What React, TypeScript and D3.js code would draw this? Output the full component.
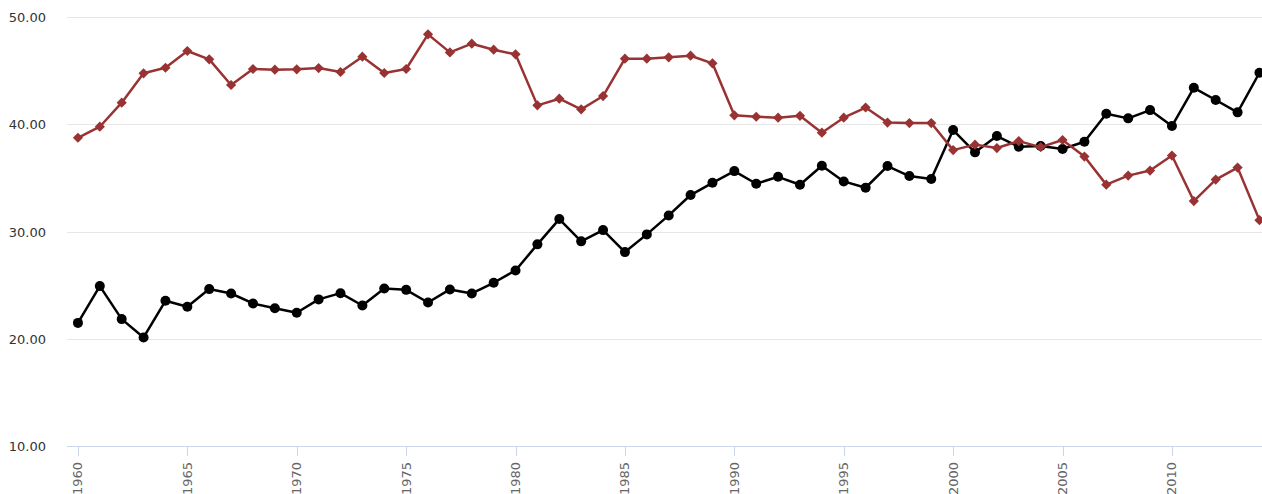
import React from 'react';
import * as d3 from 'd3';

// years on the x axis
const years: number[] = d3.range(1960, 2015);

// black series (circles)
const seriesBlack: number[] = [
  21.48, 24.91, 21.83, 20.12, 23.54, 22.98, 24.63, 24.22, 23.29, 22.85,
  22.42, 23.67, 24.25, 23.10, 24.69, 24.56, 23.38, 24.60, 24.22, 25.22,
  26.37, 28.80, 31.16, 29.08, 30.13, 28.08, 29.73, 31.50, 33.40, 34.54,
  35.63, 34.45, 35.10, 34.36, 36.13, 34.67, 34.08, 36.10, 35.17, 34.89,
  39.46, 37.38, 38.90, 37.90, 37.97, 37.69, 38.37, 40.98, 40.55, 41.32,
  39.83, 43.40, 42.26, 41.11, 44.80,
];

// red series (diamonds)
const seriesRed: number[] = [
  38.74, 39.77, 42.01, 44.75, 45.27, 46.83, 46.05, 43.66, 45.15, 45.09,
  45.12, 45.24, 44.87, 46.30, 44.78, 45.15, 48.38, 46.70, 47.51, 46.95,
  46.52, 41.76, 42.38, 41.39, 42.63, 46.11, 46.11, 46.24, 46.39, 45.68,
  40.83, 40.70, 40.61, 40.79, 39.21, 40.61, 41.56, 40.16, 40.11, 40.11,
  37.59, 38.10, 37.78, 38.43, 37.87, 38.53, 36.99, 34.37, 35.21, 35.68,
  37.08, 32.84, 34.84, 35.96, 31.06,
];

const yTicks: number[] = [10, 20, 30, 40, 50];
const xTicks: number[] = d3.range(1960, 2015, 5);

const W = 1262;
const H = 494;
const plotLeft = 67;
const plotTop = 17;
const plotBottom = 446;

export default function App() {
  const x = d3.scaleLinear().domain([1959.5, 2014.5]).range([plotLeft, 1270.4]);
  const y = d3.scaleLinear().domain([10, 50]).range([plotBottom, plotTop]);

  const line = d3.line<number>()
    .x((_, i) => x(years[i]))
    .y(d => y(d));

  const diamond = d3.symbol(d3.symbolSquare, 52)();
  const font = '"DejaVu Sans", Verdana, sans-serif';

  return (
    <svg width={W} height={H} style={{ position: 'absolute', left: 0, top: 0, background: '#fff' }}>
      {/* grid */}
      {yTicks.filter(t => t !== 10).map(t => (
        <line key={'g' + t} x1={plotLeft} x2={W} y1={Math.round(y(t)) + 0.5} y2={Math.round(y(t)) + 0.5}
          stroke="#e6e6e6" strokeWidth={1} />
      ))}
      {/* y labels */}
      {yTicks.map(t => (
        <text key={'yl' + t} x={46} y={y(t) + 5} textAnchor="end" fontFamily={font} fontSize={13} fill="#333">
          {d3.format('.2f')(t)}
        </text>
      ))}
      {/* x axis */}
      <line x1={plotLeft} x2={W} y1={plotBottom + 0.5} y2={plotBottom + 0.5} stroke="#ccd6eb" strokeWidth={1} />
      {xTicks.map(t => (
        <g key={'xt' + t}>
          <line x1={Math.round(x(t)) + 0.5} x2={Math.round(x(t)) + 0.5} y1={plotBottom} y2={plotBottom + 10}
            stroke="#ccd6eb" strokeWidth={1} />
          <text transform={`translate(${x(t) + 4.5},${plotBottom + 16}) rotate(-90)`} textAnchor="end"
            fontFamily={font} fontSize={13} fill="#666">
            {t}
          </text>
        </g>
      ))}
      {/* black series */}
      <path d={line(seriesBlack) || ''} fill="none" stroke="#000" strokeWidth={2.5} strokeLinejoin="round" />
      {seriesBlack.map((v, i) => (
        <circle key={'b' + i} cx={x(years[i])} cy={y(v)} r={5} fill="#000" />
      ))}
      {/* red series */}
      <path d={line(seriesRed) || ''} fill="none" stroke="#993333" strokeWidth={2.5} strokeLinejoin="round" />
      {seriesRed.map((v, i) => (
        <path key={'r' + i} d={diamond || ''} fill="#993333"
          transform={`translate(${x(years[i])},${y(v)}) rotate(45)`} />
      ))}
    </svg>
  );
}
